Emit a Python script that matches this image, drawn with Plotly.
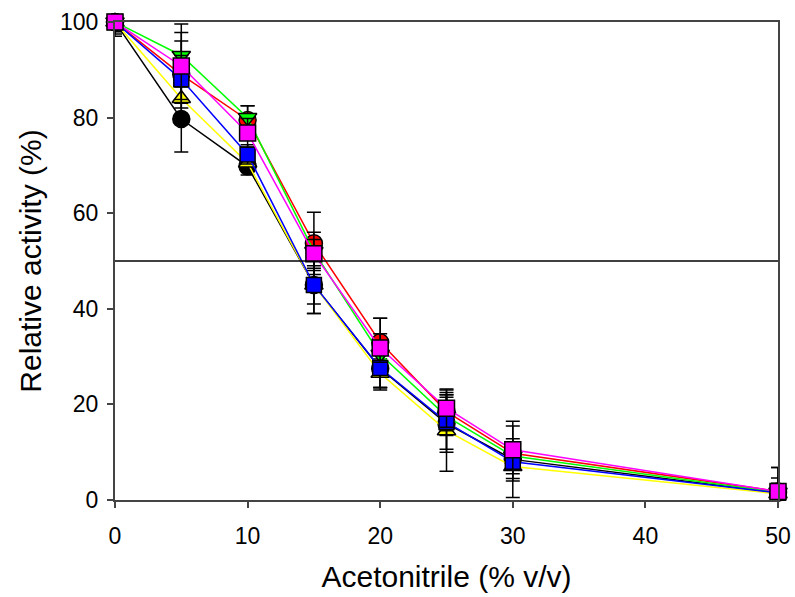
import plotly.graph_objects as go

x = [0, 5, 10, 15, 20, 25, 30, 50]

black = [100, 79.7, 69.8, 45.0, 27.5, 16.0, 8.5, 1.5]
black_err = [2.5, 6.9, 1.8, 6.0, 4.0, 6.0, 8.0, 1.5]
yellow = [100, 84.0, 70.5, 45.0, 26.5, 14.5, 7.0, 1.3]
yellow_err = [3.0, 4.0, 1.5, 4.0, 3.0, 8.5, 3.0, 2.0]
green = [100, 93.0, 80.0, 52.0, 30.5, 17.5, 9.2, 1.6]
green_err = [2.0, 6.6, 2.5, 4.0, 7.5, 4.0, 3.0, 3.0]
red = [100, 89.0, 79.5, 53.7, 33.0, 18.5, 9.8, 1.8]
red_err = [2.0, 7.0, 3.0, 6.5, 5.0, 4.0, 3.0, 5.0]
blue = [100, 88.0, 72.3, 45.0, 27.6, 16.3, 8.0, 1.5]
blue_err = [2.0, 5.0, 2.0, 6.0, 4.0, 5.7, 3.5, 2.0]
magenta = [100, 90.8, 76.8, 51.5, 31.8, 19.2, 10.5, 1.8]
magenta_err = [1.5, 7.0, 3.0, 3.0, 3.0, 4.0, 5.0, 5.0]

threshold = 50

series = [
    ("black", black, black_err, "circle", 17),
    ("yellow", yellow, yellow_err, "triangle-up", 16),
    ("red", red, red_err, "circle", 17),
    ("#00ff00", green, green_err, "triangle-down", 16),
    ("blue", blue, blue_err, "square", 15),
    ("magenta", magenta, magenta_err, "square", 16),
]

fig = go.Figure()
for color, ys, errs, sym, sz in series:
    fig.add_trace(go.Scatter(
        x=x, y=ys, mode="lines+markers",
        line=dict(color=color, width=1.5),
        marker=dict(symbol=sym, size=sz, color=color,
                    line=dict(color="black", width=1.5)),
        error_y=dict(type="data", array=errs, visible=True,
                     color="black", thickness=1.5, width=7),
        cliponaxis=False, showlegend=False,
    ))

fig.add_shape(type="line", xref="paper", yref="y", x0=0, x1=1,
              y0=threshold, y1=threshold,
              line=dict(color="black", width=1.5))

axis_common = dict(
    showgrid=False, zeroline=False, showline=True, linecolor="#444",
    linewidth=2, mirror=True, ticks="outside", tickcolor="#444",
    ticklen=6, tickwidth=1.5, automargin=False,
    tickfont=dict(family="Liberation Sans, Arial", size=23, color="black"),
)

fig.update_xaxes(range=[0, 50], tickvals=[0, 10, 20, 30, 40, 50],
                 ticklabelstandoff=8,
                 title=dict(text="Acetonitrile (% v/v)", standoff=18,
                            font=dict(family="Liberation Sans, Arial", size=30, color="black")),
                 **axis_common)
fig.update_yaxes(range=[0, 100], tickvals=[0, 20, 40, 60, 80, 100],
                 ticklabelstandoff=4,
                 title=dict(text="Relative activity (%)", standoff=10,
                            font=dict(family="Liberation Sans, Arial", size=30, color="black")),
                 **axis_common)

fig.update_layout(
    width=795, height=597,
    margin=dict(l=115, r=17, t=22, b=97),
    paper_bgcolor="white", plot_bgcolor="white",
)

fig.write_html("out.html")
